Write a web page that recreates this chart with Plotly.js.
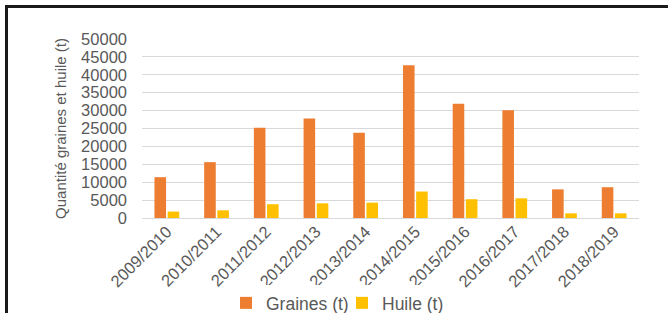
<!DOCTYPE html>
<html>
<head>
<meta charset="utf-8">
<script src="https://cdn.plot.ly/plotly-3.0.1.min.js"></script>
<style>
html,body{margin:0;padding:0;background:#fff;width:668px;height:313px;overflow:hidden;}
#frame{position:absolute;left:5px;top:5px;width:700px;height:400px;border-top:3px solid #1a1a1a;border-left:3px solid #1a1a1a;box-sizing:border-box;pointer-events:none;z-index:10;}
#chart{position:absolute;left:0;top:0;width:668px;height:313px;}
</style>
</head>
<body>
<div id="chart"></div>
<div id="frame"></div>
<script>
const categories = ["2009/2010","2010/2011","2011/2012","2012/2013","2013/2014","2014/2015","2015/2016","2016/2017","2017/2018","2018/2019"];
const graines = [11400, 15600, 25200, 27800, 23800, 42700, 31900, 30100, 8000, 8600];
const huile = [1800, 2150, 3850, 4100, 4300, 7400, 5250, 5500, 1300, 1300];
const yTicks = [0,5000,10000,15000,20000,25000,30000,35000,40000,45000,50000];

const traces = [
  {type:"bar", name:"Graines (t)", x:categories, y:graines, marker:{color:"#ED7D31"}},
  {type:"bar", name:"Huile (t)", x:categories, y:huile, marker:{color:"#FFC000"}}
];
const layout = {
  width:668, height:313,
  margin:{l:142, r:29, t:39, b:95, autoexpand:false},
  paper_bgcolor:"#fff", plot_bgcolor:"#fff",
  barmode:"group", bargap:0.47, bargroupgap:0.12,
  font:{family:"Liberation Sans, Arial, sans-serif", color:"#595959", size:14},
  xaxis:{automargin:false, tickangle:-45, tickfont:{size:16.5, color:"#595959"}, showgrid:false, showline:false, zeroline:false, ticks:""},
  yaxis:{automargin:false, range:[0,50000], tickvals:yTicks, ticktext:yTicks.map(String), tickfont:{size:16.5, color:"#595959"},
    gridcolor:"#d9d9d9", gridwidth:1, zeroline:true, zerolinecolor:"#d9d9d9", showline:false, ticks:"", ticklabelstandoff:14,
    title:{text:"Quantité graines et huile (t)", font:{size:15, color:"#595959"}, standoff:10}},
  legend:{orientation:"h", x:0.169, xanchor:"left", yref:"container", y:0.032, yanchor:"middle", font:{size:17.5, color:"#595959"}, itemwidth:30, entrywidth:71, traceorder:"normal"},
  showlegend:true
};
Plotly.newPlot("chart", traces, layout, {displayModeBar:false, staticPlot:true});
</script>
</body>
</html>
